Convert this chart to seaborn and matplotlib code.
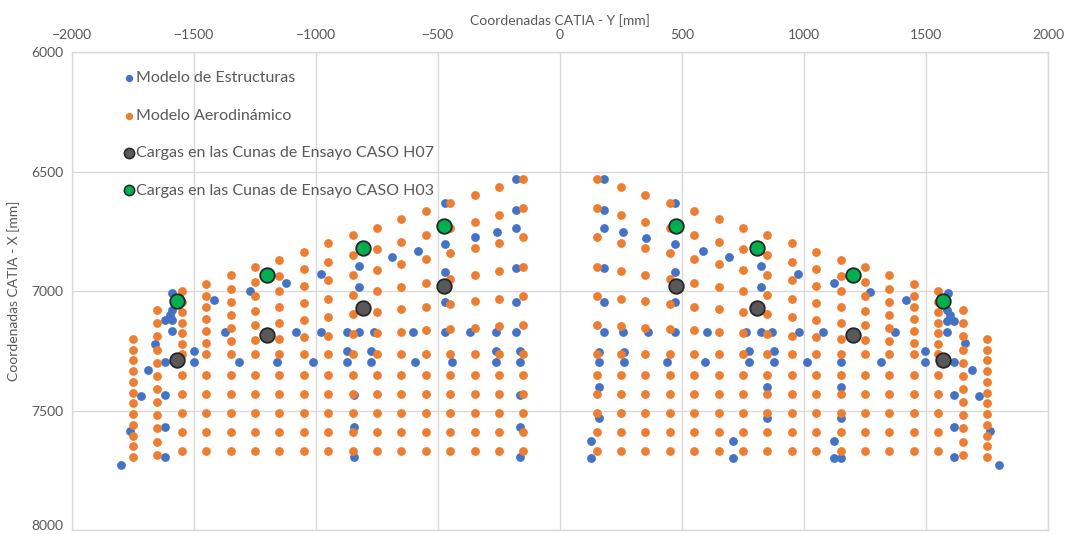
import numpy as np
import pandas as pd
import matplotlib
matplotlib.use("Agg")
import matplotlib.pyplot as plt
import seaborn as sns

# ---------------- data ----------------
# Aerodynamic model: left half columns (right half is the mirror image)
aero_cols_x = [-1750, -1650, -1550, -1450, -1350, -1250, -1150, -1050, -950,
               -850, -750, -650, -550, -450, -350, -250, -150]
aero_cols_y = [
    [7200, 7245, 7290, 7335, 7380, 7425, 7470, 7515, 7560, 7605, 7650, 7695],
    [7080, 7135, 7190, 7245, 7300, 7355, 7410, 7465, 7520, 7575, 7630, 7685],
    [7000, 7044, 7088, 7133, 7177, 7221, 7265, 7350, 7430, 7510, 7590, 7670],
    [6970, 7019, 7068, 7118, 7167, 7216, 7265, 7350, 7430, 7510, 7590, 7670],
    [6935, 6990, 7045, 7100, 7155, 7210, 7265, 7350, 7430, 7510, 7590, 7670],
    [6900, 6961, 7022, 7083, 7143, 7204, 7265, 7350, 7430, 7510, 7590, 7670],
    [6870, 6936, 7002, 7068, 7133, 7199, 7265, 7350, 7430, 7510, 7590, 7670],
    [6835, 6907, 6978, 7050, 7122, 7193, 7265, 7350, 7430, 7510, 7590, 7670],
    [6800, 6878, 6955, 7033, 7110, 7188, 7265, 7350, 7430, 7510, 7590, 7670],
    [6765, 6848, 6932, 7015, 7098, 7182, 7265, 7350, 7430, 7510, 7590, 7670],
    [6735, 6823, 6912, 7000, 7088, 7177, 7265, 7350, 7430, 7510, 7590, 7670],
    [6700, 6794, 6888, 6983, 7077, 7171, 7265, 7350, 7430, 7510, 7590, 7670],
    [6665, 6765, 6865, 6965, 7065, 7165, 7265, 7350, 7430, 7510, 7590, 7670],
    [6630, 6736, 6842, 6948, 7053, 7159, 7265, 7350, 7430, 7510, 7590, 7670],
    [6600, 6711, 6822, 6933, 7043, 7154, 7265, 7350, 7430, 7510, 7590, 7670],
    [6565, 6682, 6798, 6915, 7032, 7148, 7265, 7350, 7430, 7510, 7590, 7670],
    [6532, 6654, 6776, 6899, 7021, 7143, 7265, 7350, 7430, 7510, 7590, 7670],
]

# Structural model points, left half
struct_left_y = [-1799, -1762, -1717, -1689, -1659, -1620, -1620, -1620, -1620,
                 -1589, -1589, -1620, -1589, -1589, -1600,
                 -1499, -1499, -1419, -1371, -1317, -1270, -1209, -1158, -1123,
                 -1083, -1014, -980, -980,
                 -874, -874, -874, -825, -825, -825, -775, -775, -764, -843, -843, -843,
                 -690, -583, -604, -594,
                 -471, -471, -471, -471, -471, -444, -369, -348,
                 -260, -262, -262, -262,
                 -180, -180, -180, -180, -180, -180, -164, -164, -164, -164, -164]
struct_left_x = [7730, 7584, 7438, 7330, 7220, 7296, 7434, 7569, 7695,
                 7008, 7080, 7122, 7122, 7168, 7100,
                 7250, 7296, 7038, 7170, 7296, 7000, 7170, 7296, 6965,
                 7170, 7296, 6930, 7170,
                 7170, 7251, 7296, 6895, 6982, 7170, 7251, 7296, 7170, 7435, 7568, 7693,
                 6859, 6833, 7170, 7296,
                 6630, 6805, 6922, 7045, 7170, 7296, 7170, 6775,
                 6752, 7170, 7251, 7296,
                 6531, 6661, 6735, 6902, 7045, 7170, 7251, 7296, 7435, 7568, 7693]
# Structural model points, right half
struct_right_y = [127, 127, 161, 161, 161, 161,
                  180, 180, 180, 180, 180, 180,
                  260, 260, 264, 264, 351, 362, 440,
                  471, 471, 471, 471, 471,
                  585, 601, 594, 694,
                  710, 710, 762, 775, 775, 824, 824, 824, 847, 847, 867, 878, 878,
                  977, 980, 1011, 1079, 1124, 1124, 1124, 1152, 1152, 1152, 1152,
                  1209, 1270, 1314, 1373, 1417, 1497, 1497,
                  1589, 1585, 1585, 1616, 1585, 1600, 1616, 1616, 1616, 1616,
                  1660, 1687, 1719, 1762, 1799]
struct_right_x = [7626, 7700, 7254, 7296, 7403, 7533,
                  6531, 6661, 6735, 6905, 7045, 7170,
                  6754, 7170, 7254, 7296, 6777, 7170, 7298,
                  6633, 6805, 6922, 7045, 7170,
                  6833, 7170, 7298, 6859,
                  7626, 7700, 7170, 7251, 7298, 6895, 6982, 7170, 7403, 7533, 7170, 7251, 7298,
                  6930, 7170, 7298, 7170, 6965, 7626, 7697, 7298, 7403, 7533, 7697,
                  7170, 7003, 7298, 7170, 7038, 7250, 7298,
                  7007, 7080, 7124, 7124, 7170, 7100, 7298, 7435, 7568, 7693,
                  7219, 7331, 7438, 7584, 7728]

# Test-cradle loads
h07_y = [-1568, -1199, -806, -474, 474, 806, 1199, 1568]
h07_x = [7289, 7184, 7070, 6978, 6978, 7070, 7184, 7289]
h03_y = [-1568, -1199, -806, -474, 474, 806, 1199, 1568]
h03_x = [7040, 6933, 6821, 6727, 6727, 6821, 6933, 7040]

labels = ["Modelo de Estructuras", "Modelo Aerodinámico",
          "Cargas en las Cunas de Ensayo CASO H07",
          "Cargas en las Cunas de Ensayo CASO H03"]

# ---------------- build tables ----------------
aero_y, aero_x = [], []
for cx, col in zip(aero_cols_x, aero_cols_y):
    for v in col:
        aero_y += [cx, -cx]
        aero_x += [v, v]
df_aero = pd.DataFrame({"Y": aero_y, "X": aero_x})
df_struct = pd.DataFrame({"Y": struct_left_y + struct_right_y,
                          "X": struct_left_x + struct_right_x})
df_h07 = pd.DataFrame({"Y": h07_y, "X": h07_x})
df_h03 = pd.DataFrame({"Y": h03_y, "X": h03_x})

# ---------------- plot ----------------
sns.set_theme(style="white")
plt.rcParams["font.family"] = ["Lato", "DejaVu Sans"]
txt = "#595959"
grid_c = "#d9d9d9"

fig = plt.figure(figsize=(10.68, 5.34), dpi=100)
ax = fig.add_axes([72 / 1068, 4 / 534, 976 / 1068, 478 / 534])

sns.scatterplot(data=df_struct, x="Y", y="X", ax=ax, color="#4472C4", s=40,
                linewidth=0, label=labels[0], zorder=3)
sns.scatterplot(data=df_aero, x="Y", y="X", ax=ax, color="#ED7D31", s=40,
                linewidth=0, label=labels[1], zorder=4)
sns.scatterplot(data=df_h07, x="Y", y="X", ax=ax, color="#595959", s=110,
                edgecolor="#262626", linewidth=1.3, label=labels[2], zorder=5)
sns.scatterplot(data=df_h03, x="Y", y="X", ax=ax, color="#00B050", s=110,
                edgecolor="#262626", linewidth=1.3, label=labels[3], zorder=6)

ax.set_xlim(-2000, 2000)
ax.set_ylim(8000, 6000)
ax.set_xticks(np.arange(-2000, 2001, 500))
ax.set_yticks(np.arange(6000, 8001, 500))
ax.xaxis.tick_top()
ax.xaxis.set_label_position("top")
ax.grid(True, color=grid_c, linewidth=1)
ax.set_axisbelow(True)
for sp in ax.spines.values():
    sp.set_color(grid_c)
    sp.set_linewidth(1)
ax.tick_params(axis="both", length=0, labelsize=10, labelcolor=txt, pad=6)
ax.tick_params(axis="x", pad=8)
ax.set_xlabel("Coordenadas CATIA - Y [mm]", fontsize=10, color=txt, labelpad=3)
ax.set_ylabel("Coordenadas CATIA - X [mm]", fontsize=10, color=txt, labelpad=8)

leg = ax.legend(loc="upper left", bbox_to_anchor=(0.0518, 0.9596), frameon=False,
                fontsize=11.5, labelspacing=1.45, handletextpad=0.05,
                handlelength=0.8, borderaxespad=0, borderpad=0)
for t in leg.get_texts():
    t.set_color(txt)
hs = leg.legend_handles
hs[0].set_sizes([28])
hs[1].set_sizes([28])
hs[2].set_sizes([55])
hs[3].set_sizes([55])
for h in hs[2:]:
    h.set_linewidth(1.1)

fig.canvas.draw()
last = ax.yaxis.get_major_ticks()[-1]
last.label1.set_verticalalignment("baseline")

fig.savefig("out.png", dpi=100)
